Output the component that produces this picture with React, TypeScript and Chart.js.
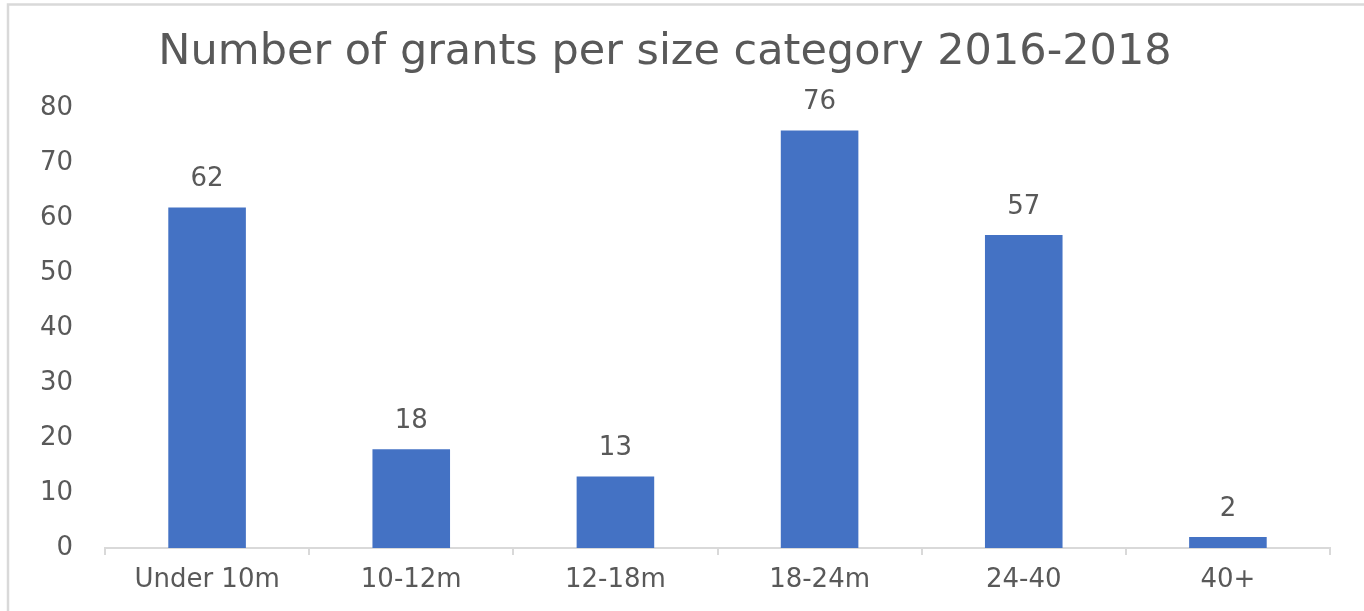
import React, { useEffect, useRef } from "react";
import { Chart, registerables } from "chart.js";

Chart.register(...registerables);

const TITLE = "Number of grants per size category 2016-2018";
const categories = ["Under 10m", "10-12m", "12-18m", "18-24m", "24-40", "40+"];
const grants = [62, 18, 13, 76, 57, 2];
const yTicks = [0, 10, 20, 30, 40, 50, 60, 70, 80];

const FONT = "'DejaVu Sans', sans-serif";
const TEXT = "#595959";
const LINE = "#d9d9d9";
const BAR = "#4472C4";

const framePlugin = {
  id: "frame",
  beforeDraw(chart: any) {
    const { ctx } = chart;
    ctx.save();
    ctx.fillStyle = "#ffffff";
    ctx.fillRect(0, 0, chart.width, chart.height);
    ctx.strokeStyle = LINE;
    ctx.lineWidth = 2.5;
    ctx.beginPath();
    ctx.moveTo(8, chart.height + 5);
    ctx.lineTo(8, 4.5);
    ctx.lineTo(chart.width + 5, 4.5);
    ctx.stroke();
    ctx.restore();
  },
};

const valueLabels = {
  id: "valueLabels",
  afterDatasetsDraw(chart: any) {
    const { ctx } = chart;
    const meta = chart.getDatasetMeta(0);
    const data = chart.data.datasets[0].data;
    ctx.save();
    ctx.font = `26px ${FONT}`;
    ctx.fillStyle = TEXT;
    ctx.textAlign = "center";
    ctx.textBaseline = "middle";
    meta.data.forEach((bar: any, i: number) => {
      ctx.fillText(String(data[i]), bar.x, bar.y - 28);
    });
    ctx.restore();
  },
};

export default function App() {
  const ref = useRef<HTMLCanvasElement>(null);

  useEffect(() => {
    if (!ref.current) return;
    const chart = new Chart(ref.current, {
      type: "bar",
      data: {
        labels: categories,
        datasets: [
          {
            data: grants,
            backgroundColor: BAR,
            borderWidth: 0,
            categoryPercentage: 1,
            barPercentage: 0.38,
          },
        ],
      },
      options: {
        animation: false,
        responsive: false,
        maintainAspectRatio: false,
        layout: { padding: { left: 0, right: 34, top: 0, bottom: 0 } },
        plugins: {
          legend: { display: false },
          tooltip: { enabled: false },
          title: {
            display: true,
            text: TITLE,
            color: TEXT,
            font: { family: FONT, size: 43, weight: "normal" },
            padding: { top: 27, bottom: 30 },
          },
        },
        scales: {
          x: {
            grid: {
              display: true,
              drawOnChartArea: false,
              drawTicks: true,
              tickLength: 7,
              color: LINE,
              lineWidth: 2,
              offset: true,
            },
            border: { display: true, color: LINE, width: 2 },
            ticks: {
              color: TEXT,
              font: { family: FONT, size: 26 },
              padding: 10,
              maxRotation: 0,
            },
            afterFit(scale: any) {
              scale.height = 63;
            },
          },
          y: {
            min: 0,
            max: 80,
            afterBuildTicks(scale: any) {
              scale.ticks = yTicks.map((v) => ({ value: v }));
            },
            grid: { display: false, drawTicks: false },
            border: { display: false },
            ticks: {
              color: TEXT,
              font: { family: FONT, size: 26 },
              padding: 32,
            },
            afterFit(scale: any) {
              scale.width = 105;
            },
          },
        },
      },
      plugins: [framePlugin, valueLabels],
    });
    return () => chart.destroy();
  }, []);

  return (
    <div style={{ position: "absolute", left: 0, top: 0, width: 1364, height: 611 }}>
      <canvas ref={ref} width={1364} height={611} style={{ display: "block" }} />
    </div>
  );
}
